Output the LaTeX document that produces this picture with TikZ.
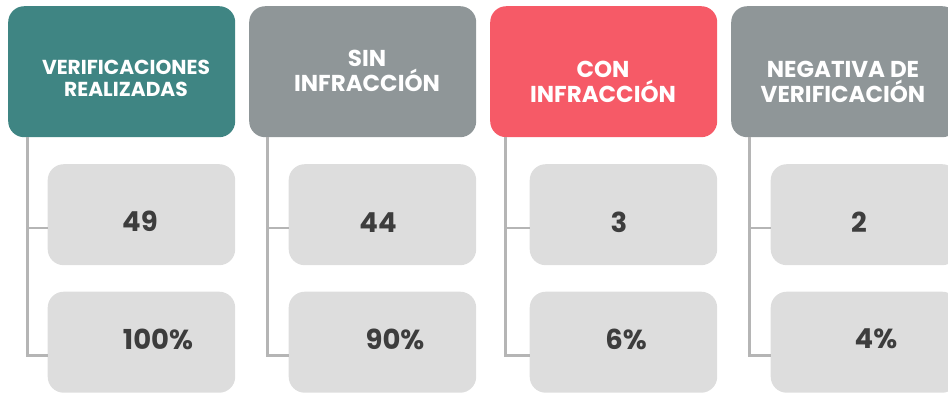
\documentclass[tikz,border=0pt]{standalone}
\usepackage{fontspec}
\setmainfont{Poppins}
\definecolor{teal1}{HTML}{3F8583}
\definecolor{gray1}{HTML}{8F9698}
\definecolor{red1}{HTML}{F65A67}
\definecolor{light1}{HTML}{DDDDDD}
\definecolor{line1}{HTML}{B5B5B5}
\definecolor{ink1}{HTML}{3D3D3D}
\tikzset{
  head/.style={rounded corners=16pt,minimum width=227pt,minimum height=131pt,inner sep=0pt,anchor=north west},
  cell/.style={fill=light1,rounded corners=16pt,minimum width=187.5pt,minimum height=101pt,inner sep=0pt,anchor=north west},
  headtext/.style={text=white,align=center,font=\fontsize{23}{25}\selectfont\bfseries,inner sep=0pt},
  headsmall/.style={text=white,align=center,font=\fontsize{20.2}{22}\selectfont\bfseries,inner sep=0pt},
  num/.style={text=ink1,font=\fontsize{27.5}{30}\selectfont\bfseries,inner sep=0pt},
  link/.style={draw=line1,line width=3pt},
  linkthin/.style={draw=line1,line width=2.5pt}
}
\begin{document}
\begin{tikzpicture}[x=1pt,y=-1pt]
\useasboundingbox (0,0) rectangle (948,392);
\clip (0,0) rectangle (948,392);
% headers
\node[head,fill=teal1] (h1) at (8,6) {};
\node[head,fill=gray1] (h2) at (249,6) {};
\node[head,fill=red1] (h3) at (490,6) {};
\node[head,fill=gray1] (h4) at (731,6) {};
% cells
\node[cell] (a1) at (47.5,164) {};
\node[cell] (b1) at (47.5,291.5) {};
\node[cell] (a2) at (288.5,164) {};
\node[cell] (b2) at (288.5,291.5) {};
\node[cell] (a3) at (529.5,164) {};
\node[cell] (b3) at (529.5,291.5) {};
\node[cell] (a4) at (770.5,164) {};
\node[cell] (b4) at (770.5,291.5) {};
% connector ends
\coordinate (t1) at (27,137); \coordinate (u1) at (48,228); \coordinate (v1) at (48,355);
\coordinate (t2) at (267.5,137); \coordinate (u2) at (289,228); \coordinate (v2) at (289,355);
\coordinate (t3) at (505,137); \coordinate (u3) at (530,228); \coordinate (v3) at (530,355);
\coordinate (t4) at (749,137); \coordinate (u4) at (771,228); \coordinate (v4) at (771,355);
\foreach \i in {1,2,3,4}{
  \draw[link] (t\i) |- (v\i);
  \draw[linkthin] (t\i |- u\i) -- (u\i);
}
% texts
\node[headsmall] (l1) at (126,78) {VERIFICACIONES\\REALIZADAS};
\node[headtext] (l2) at (367,71) {SIN\\INFRACCIÓN};
\node[headtext] (l3) at (603,81.5) {CON\\INFRACCIÓN};
\node[headtext] (l4) at (843,81.5) {NEGATIVA DE\\VERIFICACIÓN};
\node[num] (n1) at (140,221) {49};
\node[num] (p1) at (158,339) {100\%};
\node[num] (n2) at (378,223) {44};
\node[num] (p2) at (395,339) {90\%};
\node[num] (n3) at (619,222) {3};
\node[num] (p3) at (626,339) {6\%};
\node[num] (n4) at (859,222) {2};
\node[num] (p4) at (876,339) {4\%};
\end{tikzpicture}
\end{document}
